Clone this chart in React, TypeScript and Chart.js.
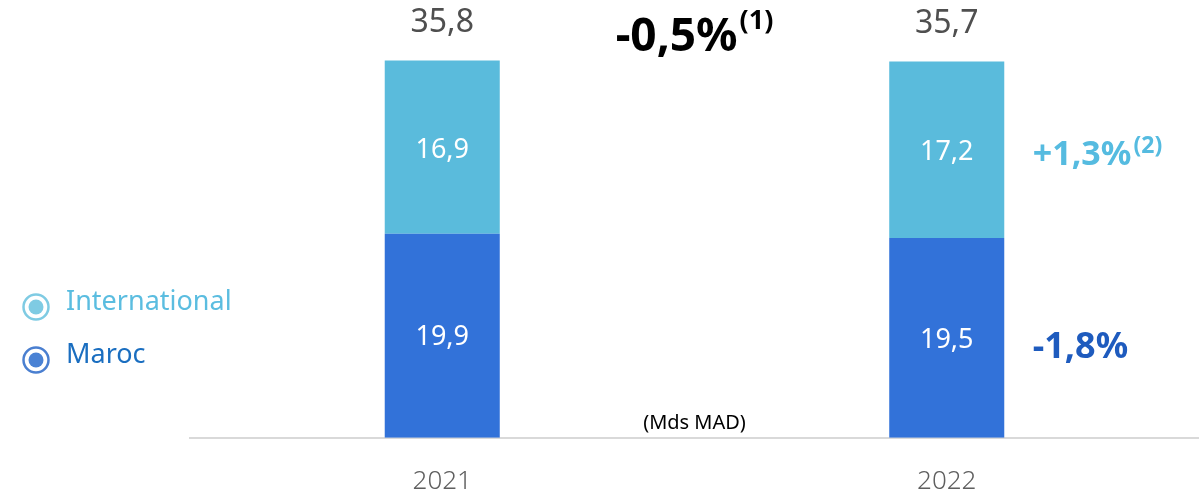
import React, { useEffect, useRef } from "react";
import { Chart, registerables } from "chart.js";

Chart.register(...registerables);

const categories = ["2021", "2022"];
const maroc = [19.9, 19.5];
const international = [16.9, 17.2];
const totals = ["35,8", "35,7"];
const marocLabels = ["19,9", "19,5"];
const intlLabels = ["16,9", "17,2"];
const totalChange = "-0,5%";
const intlChange = "+1,3%";
const marocChange = "-1,8%";
const unitLabel = "(Mds MAD)";

const FONT = "'Noto Sans', 'Open Sans', sans-serif";
const C_INTL = "#5ABBDC";
const C_MAROC = "#3272D9";

const overlay = {
  id: "overlay",
  afterDatasetsDraw(chart: any) {
    const ctx = chart.ctx as CanvasRenderingContext2D;
    const x = chart.scales.x;
    const y = chart.scales.y;
    ctx.save();
    ctx.textBaseline = "middle";
    ctx.textAlign = "center";
    categories.forEach((_, i) => {
      const cx = x.getPixelForValue(i);
      ctx.fillStyle = "#ffffff";
      ctx.font = `27px ${FONT}`;
      ctx.fillText(marocLabels[i], cx, y.getPixelForValue(maroc[i] / 2) + 2);
      ctx.fillText(intlLabels[i], cx, y.getPixelForValue(maroc[i] + international[i] / 2) + 3);
      ctx.fillStyle = "#4f4f4f";
      ctx.font = `32px ${FONT}`;
      ctx.fillText(totals[i], cx, y.getPixelForValue(maroc[i] + international[i]) - 38);
    });
    const mid = (x.getPixelForValue(0) + x.getPixelForValue(1)) / 2;
    ctx.font = `bold 46px ${FONT}`;
    const w1 = ctx.measureText(totalChange).width;
    ctx.font = `bold 27px ${FONT}`;
    const w2 = ctx.measureText("(1)").width;
    const start = mid - (w1 + w2 + 2) / 2;
    ctx.textAlign = "left";
    ctx.fillStyle = "#000000";
    ctx.font = `bold 46px ${FONT}`;
    ctx.fillText(totalChange, start, 38);
    ctx.font = `bold 27px ${FONT}`;
    ctx.fillText("(1)", start + w1 + 2, 21);
    const rx = x.getPixelForValue(1) + 86;
    ctx.fillStyle = "#55BBE0";
    ctx.font = `bold 34px ${FONT}`;
    const yi = y.getPixelForValue(maroc[1] + international[1] / 2) + 6;
    ctx.fillText(intlChange, rx, yi);
    const wi = ctx.measureText(intlChange).width;
    ctx.font = `bold 23px ${FONT}`;
    ctx.fillText("(2)", rx + wi + 2, yi - 9);
    ctx.fillStyle = "#1E5BBE";
    ctx.font = `bold 36px ${FONT}`;
    ctx.fillText(marocChange, rx, y.getPixelForValue(maroc[1] / 2) + 10);
    ctx.textAlign = "center";
    ctx.fillStyle = "#000000";
    ctx.font = `20px ${FONT}`;
    ctx.fillText(unitLabel, mid, 423);
    const items = [
      { label: "International", ring: "#7FCBE3", fill: "#7FCBE3", text: "#5BBDE0", y: 302 },
      { label: "Maroc", ring: "#4A7FD0", fill: "#4A82D4", text: "#1A6EC0", y: 355 },
    ];
    items.forEach((it) => {
      ctx.beginPath();
      ctx.arc(36, it.y + 5, 12.5, 0, Math.PI * 2);
      ctx.strokeStyle = it.ring;
      ctx.lineWidth = 2.5;
      ctx.stroke();
      ctx.beginPath();
      ctx.arc(36, it.y + 5, 7.5, 0, Math.PI * 2);
      ctx.fillStyle = it.fill;
      ctx.fill();
      ctx.textAlign = "left";
      ctx.fillStyle = it.text;
      ctx.font = `27px ${FONT}`;
      ctx.fillText(it.label, 66, it.y);
    });
    ctx.restore();
  },
};

export default function App() {
  const ref = useRef<HTMLCanvasElement>(null);
  useEffect(() => {
    if (!ref.current) return;
    const chart = new Chart(ref.current, {
      type: "bar",
      data: {
        labels: categories,
        datasets: [
          { label: "Maroc", data: maroc, backgroundColor: C_MAROC, stack: "s" },
          { label: "International", data: international, backgroundColor: C_INTL, stack: "s" },
        ],
      },
      options: {
        animation: false,
        responsive: false,
        maintainAspectRatio: false,
        layout: { padding: { left: 190, right: 0, top: 16, bottom: 2 } },
        datasets: { bar: { categoryPercentage: 1, barPercentage: 0.228 } },
        plugins: { legend: { display: false }, tooltip: { enabled: false } },
        scales: {
          x: {
            stacked: true,
            grid: { display: false, drawTicks: false },
            border: { display: true, color: "#D9D9D9", width: 2 },
            ticks: { color: "#5f5f5f", font: { family: FONT, size: 26, weight: "300" as any }, padding: 28 },
          },
          y: { stacked: true, display: false, min: 0, max: 41.15 },
        },
      },
      plugins: [overlay],
    });
    return () => chart.destroy();
  }, []);
  return (
    <div style={{ position: "fixed", left: 0, top: 0, width: 1199, height: 499, overflow: "hidden", background: "#fff" }}>
      <canvas ref={ref} width={1199} height={527} style={{ display: "block" }} />
    </div>
  );
}
